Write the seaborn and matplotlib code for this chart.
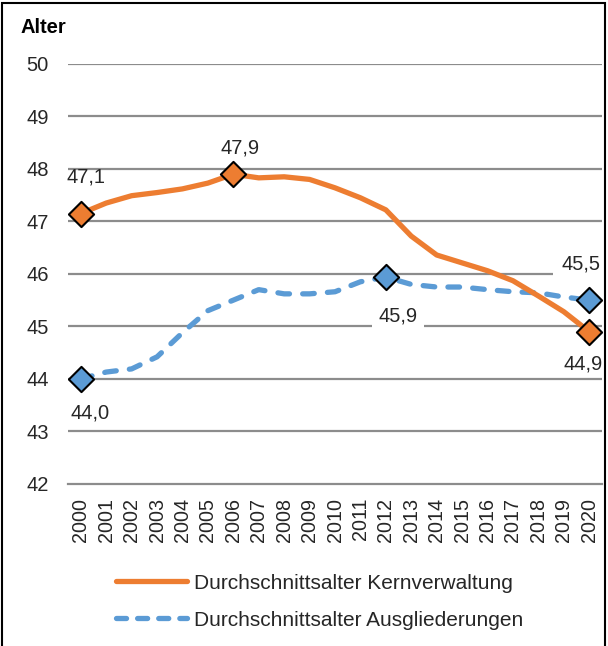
import seaborn as sns
import matplotlib.pyplot as plt
import pandas as pd
from matplotlib.patches import Rectangle

# values
years = list(range(2000, 2021))
kern = [47.15, 47.35, 47.49, 47.55, 47.62, 47.73, 47.9, 47.83, 47.85, 47.8, 47.64,
        47.45, 47.22, 46.72, 46.36, 46.21, 46.06, 45.87, 45.58, 45.28, 44.9]
ausg = [44.0, 44.13, 44.19, 44.42, 44.88, 45.3, 45.5, 45.7, 45.62, 45.62, 45.66,
        45.85, 45.94, 45.8, 45.75, 45.75, 45.7, 45.66, 45.64, 45.56, 45.5]
kern_marks = [2000, 2006, 2020]
ausg_marks = [2000, 2012, 2020]
yticks = [42, 43, 44, 45, 46, 47, 48, 49, 50]

orange = '#ED7D31'
blue = '#5B9BD5'
txt = '#262626'

sns.set_style('white')
plt.rcParams['font.family'] = ['Liberation Sans', 'DejaVu Sans']

df = pd.DataFrame({'pos': range(len(years)), 'kern': kern, 'ausg': ausg})

fig = plt.figure(figsize=(6.08, 6.46), dpi=100)
ax = fig.add_axes([0.112, 0.251, 0.878, 0.650])

for v in yticks[1:]:
    ax.axhline(v, color='#8c8c8c', lw=1.6, zorder=0)

sns.lineplot(data=df, x='pos', y='kern', color=orange, lw=3.8, ax=ax,
             label='Durchschnittsalter Kernverwaltung', zorder=3)
sns.lineplot(data=df, x='pos', y='ausg', color=blue, lw=3.8, ax=ax,
             label='Durchschnittsalter Ausgliederungen', zorder=2)
ax.lines[-1].set_dashes([2.2, 2.5])
ax.lines[-1].set_dash_capstyle('round')
ax.lines[-2].set_solid_capstyle('round')

mk = df[df['pos'].isin([years.index(y) for y in kern_marks])]
sns.scatterplot(data=mk, x='pos', y='kern', marker='D', s=165, color=orange,
                edgecolor='black', linewidth=1.5, ax=ax, zorder=5, legend=False)
mb = df[df['pos'].isin([years.index(y) for y in ausg_marks])]
sns.scatterplot(data=mb, x='pos', y='ausg', marker='D', s=165, color=blue,
                edgecolor='black', linewidth=1.5, ax=ax, zorder=5, legend=False)

def lbl(v):
    return f'{v:.1f}'.replace('.', ',')

fs = 14.5
kw = dict(ha='center', va='center', fontsize=fs, color=txt)
ax.text(0.2, 47.85, lbl(47.1), **kw)
ax.text(6.25, 48.4, lbl(kern[6]), **kw)
ax.text(19.77, 44.29, lbl(kern[20]), **kw)
ax.text(0.36, 43.35, lbl(ausg[0]), **kw)
ax.text(12.48, 45.2, lbl(ausg[12]), bbox=dict(facecolor='white', edgecolor='none', pad=5), **kw)
ax.text(19.66, 46.19, lbl(ausg[20]), bbox=dict(facecolor='white', edgecolor='none', pad=6), **kw)

ax.set_xlim(-0.5, len(years) - 0.5)
ax.set_ylim(42, 50)
ax.set_yticks(yticks)
ax.set_yticklabels([str(t) for t in yticks], fontsize=14.5, color=txt)
ax.set_xticks(range(len(years)))
ax.set_xticklabels([str(y) for y in years], rotation=90, fontsize=14.2, color=txt)
ax.set_xticks([i - 0.5 for i in range(len(years) + 1)], minor=True)
ax.tick_params(axis='x', which='major', length=0, pad=10)
ax.tick_params(axis='x', which='minor', length=5, color='#8c8c8c', width=1.2, direction='out')
ax.tick_params(axis='y', length=0, pad=14)
ax.set_xlabel('')
ax.set_ylabel('')
for s in ['top', 'right', 'left']:
    ax.spines[s].set_visible(False)
ax.spines['bottom'].set_color('#8c8c8c')
ax.spines['bottom'].set_linewidth(1.6)

leg = ax.legend(loc='upper left', bbox_to_anchor=(0.075, -0.194), frameon=False,
                fontsize=15, handlelength=3.4, handletextpad=0.3, labelspacing=0.87,
                borderaxespad=0)
for t in leg.get_texts():
    t.set_color(txt)
h = leg.get_lines()[1]
h.set_dashes([1.9, 2.1])
h.set_dash_capstyle('round')
leg.get_lines()[0].set_solid_capstyle('round')

fig.text(0.033, 0.957, 'Alter', fontsize=14.5, fontweight='bold', color='black', va='center')
fig.patches.append(Rectangle((0.004, -0.02), 0.991, 1.015, transform=fig.transFigure,
                             fill=False, edgecolor='black', lw=1.5))

fig.savefig('out.png', dpi=100)
